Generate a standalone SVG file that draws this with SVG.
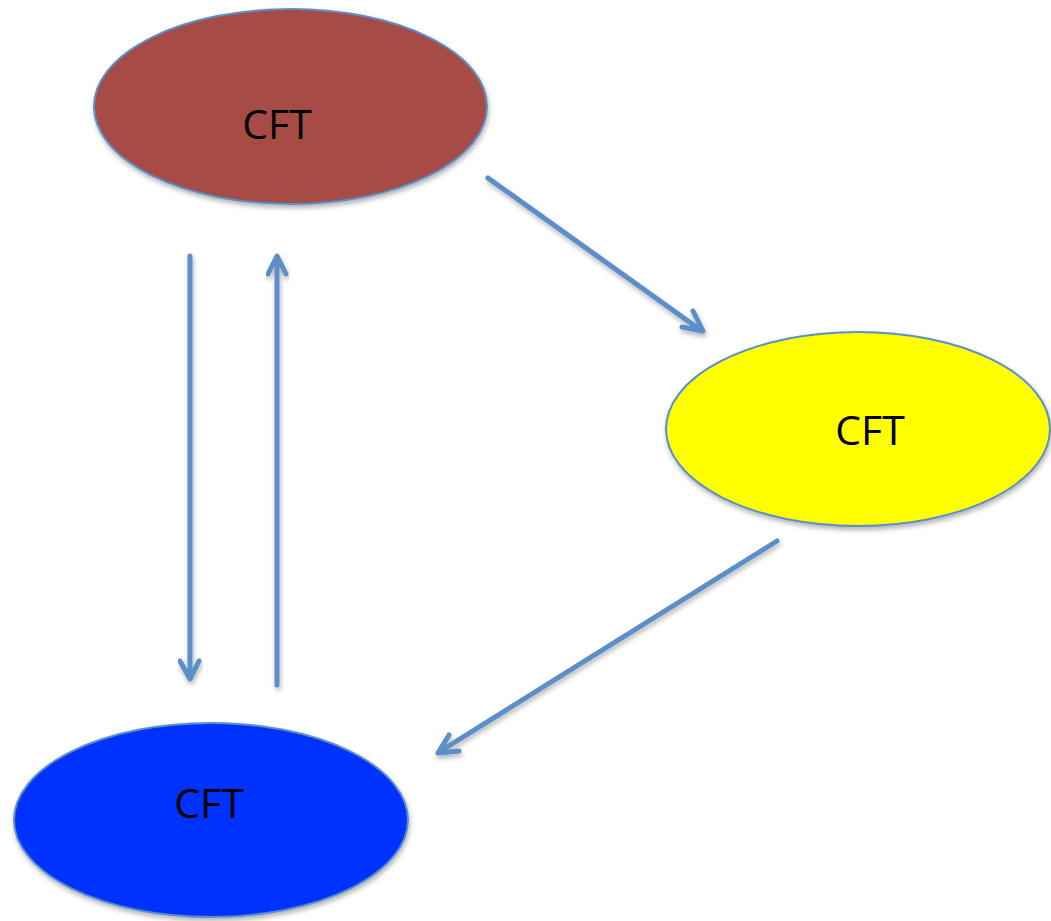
<svg xmlns="http://www.w3.org/2000/svg" width="1051" height="921" viewBox="0 0 1051 921">
<defs>
<filter id="sh" x="-10%" y="-10%" width="130%" height="130%">
<feDropShadow dx="1" dy="3" stdDeviation="2.5" flood-color="#000" flood-opacity="0.3"/>
</filter>
</defs>
<style>
.node{stroke:#5b8fc7;stroke-width:2;filter:url(#sh)}
.lbl{font-family:"Open Sans","Liberation Sans",sans-serif;font-size:41px;fill:#000;text-anchor:middle}
.conn{fill:none;stroke:#5b8fc7;stroke-width:5;stroke-linecap:round;stroke-linejoin:round;filter:url(#sh)}
</style>
<rect width="1051" height="921" fill="#fff"/>
<g id="node-red">
<ellipse class="node" cx="290.5" cy="106.5" rx="196.5" ry="97.5" fill="#a64b44"/>
<text class="lbl" x="277" y="139">CFT</text>
</g>
<g id="node-yellow">
<ellipse class="node" cx="858" cy="429" rx="192" ry="97" fill="#ffff00"/>
<text class="lbl" x="870" y="445">CFT</text>
</g>
<g id="node-blue">
<ellipse class="node" cx="211" cy="820" rx="197" ry="97" fill="#0433ff"/>
<text class="lbl" x="209" y="818">CFT</text>
</g>
<g id="connectors">
<path class="conn" d="M488,178 L702,331 M693,311 L703,331 L682,327"/>
<path class="conn" d="M190,256 L190,678 M180,661 L190,679 L199,661"/>
<path class="conn" d="M277,685 L277,257 M268,274 L277,256 L286,274"/>
<path class="conn" d="M777,541 L439,752 M449,735 L438,753 L459,751"/>
</g>
</svg>
